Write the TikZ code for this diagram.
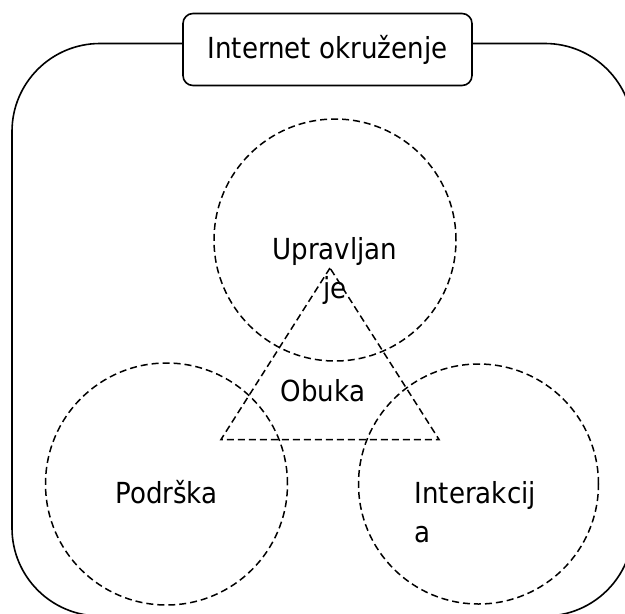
\documentclass[tikz,border=0pt]{standalone}
\usepackage{fontspec}
\setmainfont{DejaVu Sans Condensed}
\begin{document}
\begin{tikzpicture}[x=1pt,y=-1pt,
  frame/.style={draw, line width=1.6pt, rounded corners=88pt},
  titlebox/.style={draw, fill=white, line width=1.6pt, rounded corners=10pt,
    minimum width=289pt, minimum height=72pt, inner sep=0pt,
    font=\fontsize{29}{39}\selectfont},
  ring/.style={circle, draw, dash pattern=on 7pt off 4pt, line width=1.5pt,
    minimum size=#1, inner sep=0pt},
  tri/.style={dash pattern=on 7pt off 4pt, line width=1.5pt, line join=miter},
  lbl/.style={font=\fontsize{29}{39}\selectfont, inner sep=0pt}]

\useasboundingbox (0,0) rectangle (625,614);

% outer rounded frame, running past the page on the right and bottom
\begin{scope}
  \clip (0,0) rectangle (625,614);
  \draw[frame] (12,43.5) rectangle (633,616);
\end{scope}

% three dashed circles
\node[ring=242pt] (upr) at (335,240) {};
\node[ring=242pt] (pod) at (166.5,484) {};
\node[ring=240pt] (int) at (478.5,484) {};

% dashed triangle in the middle
\coordinate (apex) at (330,268);
\coordinate (bl) at (221,439.5);
\coordinate (br) at (439,439.5);
\draw[tri] (apex) -- (bl) -- (br) -- cycle;

% title
\node[titlebox] (title) at (327.5,49.5) {Internet okruženje};

% labels (base anchor of a two-line node sits on its last line)
\node[lbl, align=center, anchor=base] (uprl) at (335,298) {Upravljan\\je};
\node[lbl, anchor=base] (obuka) at (323,401.5) {Obuka};
\node[lbl, anchor=base] (podl) at (166.5,503) {Podrška};
\node[lbl, align=left, anchor=base west] (intl) at (414.5,542) {Interakcij\\a};
\end{tikzpicture}
\end{document}
